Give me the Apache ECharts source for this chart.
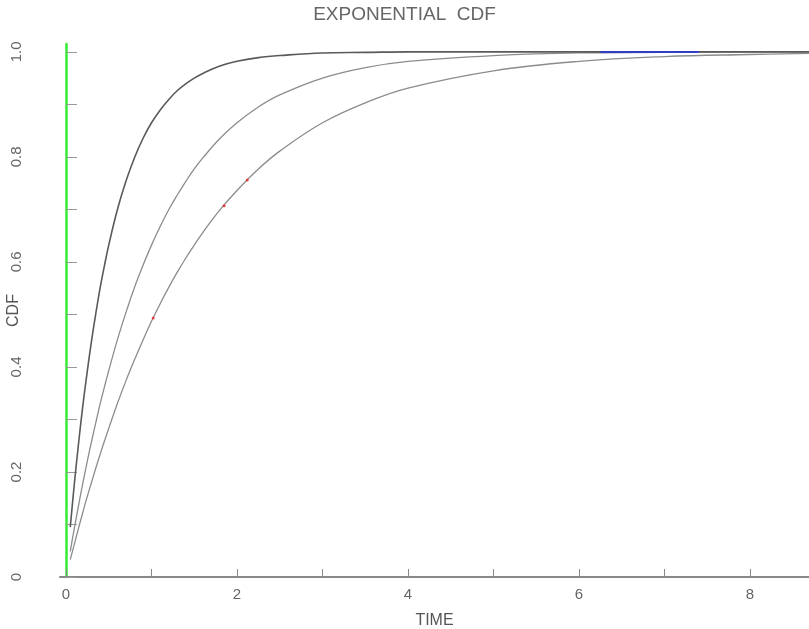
<!DOCTYPE html>
<html><head><meta charset="utf-8">
<script src="https://cdn.jsdelivr.net/npm/echarts@6/dist/echarts.min.js"></script>
<style>html,body{margin:0;padding:0;background:#fff}#c{width:809px;height:629px}</style>
</head><body><div id="c"></div>
<script>
var timeValues = [0.05,0.1,0.15,0.2,0.25,0.3,0.35,0.4,0.45,0.5,0.6,0.7,0.8,0.9,1.0,1.1,1.2,1.3,1.4,1.5,1.6,1.8,2.0,2.25,2.5,3.0,3.5,4.0,5.0,6.0,7.0,8.0,8.69];
var cdfFast = [0.095,0.181,0.259,0.330,0.393,0.451,0.503,0.551,0.593,0.632,0.699,0.753,0.798,0.835,0.865,0.889,0.909,0.926,0.939,0.950,0.959,0.973,0.982,0.989,0.993,0.998,0.999,1.000,1.000,1.000,1.000,1.000,1.000];
var cdfMid  = [0.049,0.095,0.139,0.181,0.221,0.259,0.295,0.330,0.362,0.393,0.451,0.503,0.551,0.593,0.632,0.667,0.699,0.727,0.753,0.777,0.798,0.835,0.865,0.895,0.918,0.950,0.970,0.982,0.993,0.998,0.999,1.000,1.000];
var cdfSlow = [0.033,0.064,0.095,0.125,0.154,0.181,0.208,0.234,0.259,0.283,0.330,0.373,0.413,0.451,0.487,0.520,0.551,0.580,0.607,0.632,0.656,0.699,0.736,0.777,0.811,0.865,0.903,0.931,0.964,0.982,0.991,0.995,0.997];
var markX = [1.02,1.85,2.12];
var markY = [0.493,0.707,0.756];
var blueX = [6.25,7.4];
var blueY = [1.0,1.0];
var xTicks = [0,1,2,3,4,5,6,7,8];
var xLabels = [0,2,4,6,8];
var yTicks = [0,0.1,0.2,0.3,0.4,0.5,0.6,0.7,0.8,0.9,1.0];
var yLabels = [0,0.2,0.4,0.6,0.8,1.0];

function pairs(xs, ys){ return xs.map(function(x,i){return [x, ys[i]];}); }
var font = 'Liberation Sans, DejaVu Sans, sans-serif';
var chart = echarts.init(document.getElementById('c'));
chart.setOption({
  animation:false,
  title:{text:'EXPONENTIAL  CDF', left:'center', top:0,
    textStyle:{color:'#666', fontWeight:'normal', fontSize:19, fontFamily:font}},
  grid:{left:60, right:0, top:44, bottom:52, containLabel:false, outerBoundsMode:'none'},
  xAxis:{type:'value', min:-0.07, max:8.69,
    name:'TIME', nameLocation:'middle', nameGap:36, nameMoveOverlap:false,
    nameTextStyle:{color:'#555', fontSize:16, fontFamily:font},
    axisLine:{show:true, lineStyle:{color:'#888', width:2}},
    axisTick:{show:true, inside:true, length:8, customValues:xTicks, lineStyle:{color:'#888'}},
    axisLabel:{customValues:xLabels, color:'#666', fontSize:15, fontFamily:font, margin:10,
      formatter:function(v){return String(v);}},
    splitLine:{show:false}},
  yAxis:{type:'value', min:0, max:1.015,
    name:'CDF', nameLocation:'middle', nameGap:38, nameRotate:90, nameMoveOverlap:false,
    nameTextStyle:{color:'#555', fontSize:16, fontFamily:font},
    axisLine:{show:true, lineStyle:{color:'#33ee33', width:2.5}},
    axisTick:{show:true, inside:true, length:11, customValues:yTicks, lineStyle:{color:'#999'}},
    axisLabel:{customValues:yLabels, rotate:90, color:'#666', fontSize:15, fontFamily:font, margin:36,
      formatter:function(v){return v===0?'0':v.toFixed(1);}},
    splitLine:{show:false}},
  series:[
    {type:'line', data:pairs(timeValues,cdfSlow), smooth:0.4, symbol:'none', lineStyle:{color:'#8c8c8c', width:1.3}, z:2},
    {type:'line', data:pairs(timeValues,cdfMid), smooth:0.4, symbol:'none', lineStyle:{color:'#8c8c8c', width:1.3}, z:2},
    {type:'line', data:pairs(timeValues,cdfFast), smooth:0.4, symbol:'none', lineStyle:{color:'#5a5a5a', width:1.6}, z:3},
    {type:'line', data:pairs(blueX,blueY), symbol:'none', lineStyle:{color:'#2233ee', width:1.5}, z:4},
    {type:'scatter', data:pairs(markX,markY), symbolSize:3, itemStyle:{color:'#ee2222'}, z:5}
  ]
});
</script></body></html>
